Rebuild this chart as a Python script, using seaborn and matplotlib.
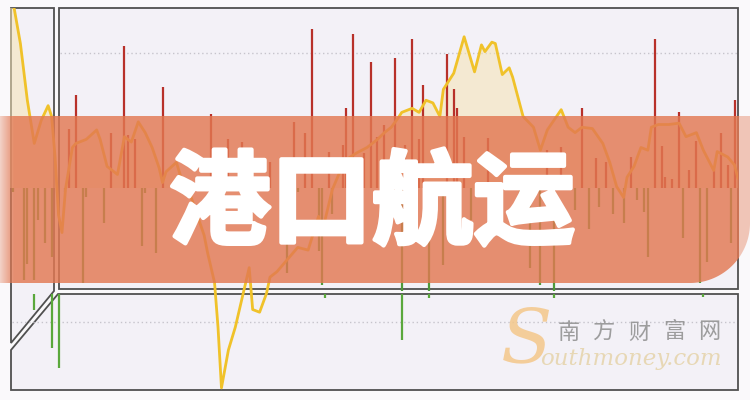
import numpy as np
import matplotlib
matplotlib.use("Agg")
import matplotlib.pyplot as plt
from matplotlib.patches import Polygon
from matplotlib.colors import to_rgb
import matplotlib.patheffects as pe
import seaborn as sns

# daily change (%) by trading day index
up_days = [17, 19, 29, 33, 34, 36, 44, 58, 63, 67, 75, 82, 85, 87, 92, 96, 97, 99,
           102, 104, 106, 108, 111, 114, 116, 118, 119, 126, 128, 129, 131, 138,
           155, 159, 165, 169, 172, 179, 186, 188, 189, 191, 193, 196, 198, 203,
           205, 207, 209]
up_vals = [4.4, 6.9, 4.1, 10.5, 3.9, 3.6, 7.5, 5.5, 3.6, 3.4, 1.9, 4.9, 4.1, 11.8,
           2.7, 3.2, 5.9, 11.4, 2.6, 9.3, 3.8, 4.7, 9.6, 3.2, 11.0, 3.6, 7.6, 9.9,
           7.3, 5.9, 3.8, 3.7, 2.8, 3.0, 5.9, 2.2, 1.9, 2.3, 11.0, 3.1, 0.8, 0.7,
           5.6, 1.3, 3.5, 1.3, 4.1, 1.7, 6.5]

down_days = [1, 4, 5, 7, 8, 10, 12, 16, 21, 22, 27, 38, 39, 42, 80, 83, 89, 90, 93,
             113, 121, 125, 133, 147, 150, 153, 157, 163, 167, 170, 174, 177, 181,
             183, 184, 194, 199, 201, 208]
down_vals = [-0.3, -6.8, -5.6, -6.8, -2.4, -4.1, -5.1, -0.3, -7.0, -0.7, -2.6, -4.3,
             -0.4, -4.8, -6.3, -0.3, -4.7, -7.2, -1.9, -7.6, -7.6, -5.7, -2.4, -0.9,
             -5.9, -7.2, -7.6, -1.6, -3.0, -1.4, -1.9, -2.6, -0.9, -1.8, -5.1, -3.7,
             -7.0, -5.5, -4.1]

# lower panel
vol_days = [7, 12, 14, 91, 113, 121, 157, 200]
vol_vals = [-1.2, -4.0, -5.5, -0.3, -3.4, -0.3, -0.3, -0.2]

# cumulative line
line_days = [0, 1, 3, 5, 7, 9, 11, 12, 13, 14, 15, 16, 18, 19, 22, 25, 26, 28, 31,
             33, 35, 37, 39, 41, 43, 44, 45, 48, 50, 52, 54, 56, 57, 59, 60, 61, 63,
             65, 69, 70, 72, 74, 75, 77, 80, 83, 86, 89, 90, 93, 95, 97, 100, 103,
             106, 108, 110, 112, 113, 116, 118, 120, 122, 124, 125, 128, 131, 134,
             136, 137, 139, 140, 142, 144, 145, 148, 151, 153, 155, 159, 161, 163,
             165, 168, 171, 173, 175, 177, 178, 180, 182, 184, 185, 187, 190, 193,
             195, 198, 200, 203, 204, 207, 209, 210]
line_vals = [13.8, 13.6, 10.7, 6.5, 3.3, 5.0, 6.1, 5.3, 2.3, -2.0, -3.3, -0.1, 3.0,
             3.3, 3.6, 4.3, 3.6, 1.6, 1.0, 3.8, 3.4, 4.9, 4.1, 3.0, 1.5, 0.4, 1.2,
             1.9, 0.2, -0.5, -2.0, -3.5, -4.8, -7.0, -10.3, -14.8, -12.0, -10.3,
             -5.9, -9.0, -9.2, -7.8, -6.6, -6.2, -5.3, -4.4, -4.6, -2.1, -3.3, -0.1,
             1.1, 2.1, 2.6, 3.0, 3.6, 4.1, 4.5, 5.2, 5.6, 5.9, 5.6, 6.5, 6.3, 5.3,
             7.3, 8.5, 11.2, 8.6, 10.6, 10.1, 10.8, 10.7, 8.4, 8.9, 8.2, 5.3, 4.5,
             2.8, 4.3, 5.8, 4.5, 4.1, 4.5, 4.4, 3.3, 1.9, 0.1, -0.7, 0.8, 1.6, 3.0,
             2.8, 4.5, 4.7, 4.7, 4.8, 3.8, 4.1, 2.8, 1.3, 2.7, 2.3, 1.7, 0.7]

title = "港口航运"
brand_cn = "南方财富网"
brand_en = "outhmoney.com"

sns.set_theme(style="white")
plt.rcParams['font.family'] = ['Noto Sans CJK SC', 'DejaVu Sans']

W, H = 750, 400
fig = plt.figure(figsize=(7.5, 4), dpi=100)
fig.patch.set_facecolor('#faf9fb')


def box(l, t, r, b):
    return [l / W, 1 - b / H, (r - l) / W, (b - t) / H]


def pixel_axes(z):
    a = fig.add_axes([0, 0, 1, 1], zorder=z)
    a.set_xlim(0, W)
    a.set_ylim(H, 0)
    a.axis('off')
    a.patch.set_alpha(0)
    return a


# panel frames
bg = pixel_axes(0)
panel = '#f3f1f7'
edge = '#505050'
bg.add_patch(Polygon([(11, 8), (54, 8), (54, 291), (11, 343)], fc=panel, ec=edge, lw=1.3))
bg.add_patch(Polygon([(59, 8), (738, 8), (738, 289), (59, 289)], fc=panel, ec=edge, lw=1.3))
bg.add_patch(Polygon([(58, 294), (738, 294), (738, 390), (11, 390), (11, 350)],
                     fc=panel, ec=edge, lw=1.3))
bg.plot([60, 737], [53, 53], ls=(0, (1, 2)), color='#c6c4cc', lw=1)
bg.plot([12, 737], [322, 322], ls=(0, (1, 2)), color='#c6c4cc', lw=1)

# price panel: bars + line
ax = fig.add_axes(box(10, 8, 738, 390), zorder=2)
ax.patch.set_alpha(0)
lv = np.array(line_vals)
ax.fill_between(line_days, lv, 0, where=lv > 0, interpolate=True,
                color='#f6e4b4', alpha=0.55, lw=0, zorder=1)
ax.vlines(up_days, 0, up_vals, color='#b8312a', lw=1.6, zorder=2)
ax.vlines(down_days, 0, down_vals, color='#4f9a3a', lw=1.6, zorder=2)
sns.lineplot(x=line_days, y=line_vals, ax=ax, color='#f0c22a', lw=2, zorder=3)
ax.set_xlim(0, 210)
ax.set_ylim(-14.96, 13.33)
ax.axis('off')

# lower panel
axv = fig.add_axes(box(10, 294, 738, 390), zorder=2)
axv.patch.set_alpha(0)
axv.vlines(vol_days, 0, vol_vals, color='#5aa83c', lw=1.6)
axv.set_xlim(0, 210)
axv.set_ylim(-96 / 13.5, 0)
axv.axis('off')

# banner
deco = pixel_axes(4)
t = np.linspace(0, np.pi / 2, 40)
arc = list(zip(690 + 60 * np.cos(t), 223 + 60 * np.sin(t)))
banner = Polygon([(0, 116), (750, 116)] + arc + [(0, 283)], fc='none', ec='none')
deco.add_patch(banner)
xs = np.arange(W) + 0.5
alpha = np.full(W, 0.82)
alpha[xs < 14] = 0.3 + 0.52 * xs[xs < 14] / 14
alpha[xs > 739] = 0.4
rgba = np.zeros((1, W, 4))
rgba[..., :3] = to_rgb('#e27852')
rgba[0, :, 3] = alpha
im = deco.imshow(rgba, extent=(0, W, 283, 116), aspect='auto', interpolation='nearest', zorder=1)
im.set_clip_path(banner)
deco.set_xlim(0, W)
deco.set_ylim(H, 0)

deco.text(372, 206, title, ha='center', va='center', fontsize=73, fontweight='heavy',
          color='white', zorder=5,
          path_effects=[pe.withStroke(linewidth=3, foreground='white')])

# watermark
for i, ch in enumerate(brand_cn):
    deco.text(569 + i * 35, 332, ch, ha='center', va='center', fontsize=16,
              color='#8e8e8e', alpha=0.85, zorder=5)
deco.text(527, 342, 'S', ha='center', va='center', fontsize=54, style='italic',
          family='DejaVu Serif', color='#f3c78a', alpha=0.85, zorder=5)
deco.text(540, 365, brand_en, ha='left', va='baseline', fontsize=16.5, style='italic',
          family='DejaVu Serif', color='#e6d5ae', alpha=0.9, zorder=5)

fig.savefig('out.png', dpi=100)
